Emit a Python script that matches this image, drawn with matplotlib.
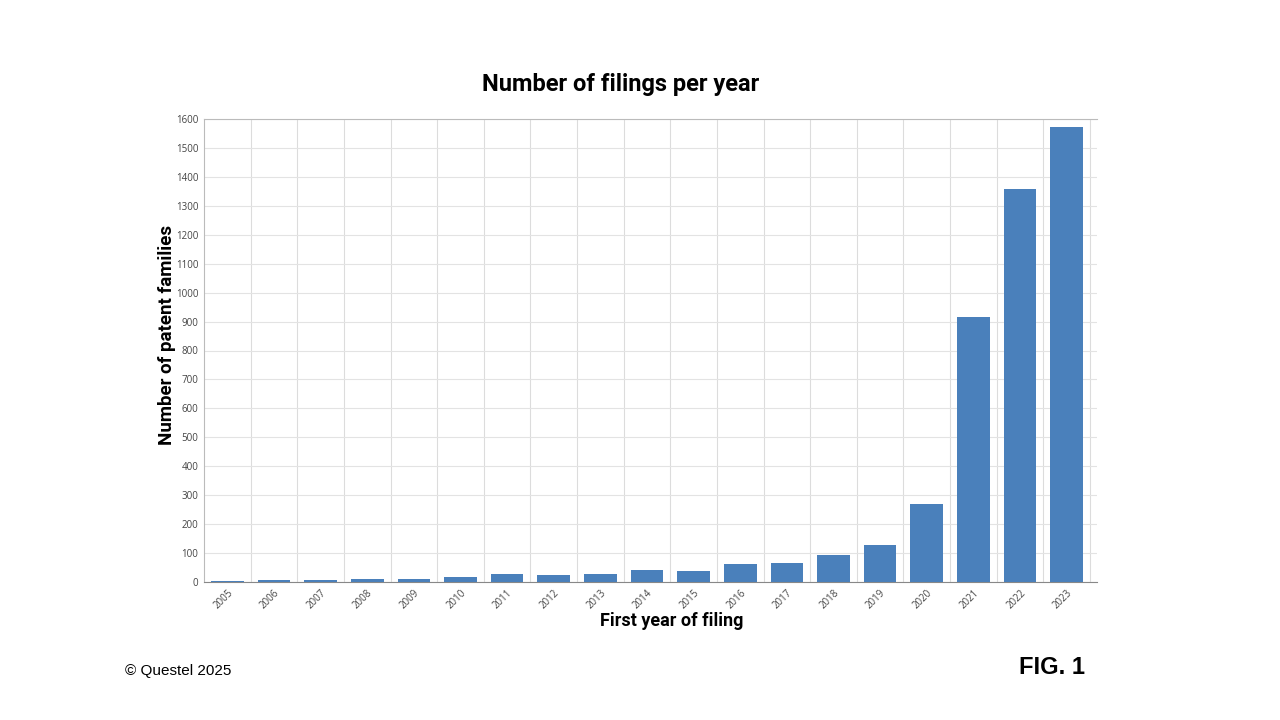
import matplotlib
matplotlib.use("Agg")
import matplotlib.pyplot as plt
from matplotlib.ticker import MultipleLocator

years = ["2005", "2006", "2007", "2008", "2009", "2010", "2011", "2012", "2013", "2014",
         "2015", "2016", "2017", "2018", "2019", "2020", "2021", "2022", "2023"]
families = [2, 8, 7, 12, 10, 19, 28, 25, 29, 42, 39, 63, 67, 94, 129, 271, 917, 1357, 1573]

fig = plt.figure(figsize=(12.8, 7.2), dpi=100)
ax = fig.add_axes([204/1280, 1 - 582/720, (1097-204)/1280, (582-119)/720])

x = list(range(len(years)))
ax.bar(x, families, width=0.7, color="#4a80bb", zorder=3)

ax.set_xlim(-0.5, len(years) - 0.35)
ax.set_ylim(0, 1600)
ax.yaxis.set_major_locator(MultipleLocator(100))
ax.set_xticks(x)
ax.set_xticklabels(years, rotation=45, ha="right", rotation_mode="anchor",
                   fontsize=7, color="#444444", family="Open Sans")
for lab in ax.get_yticklabels():
    lab.set_fontsize(7)
    lab.set_color("#444444")
    lab.set_family("Open Sans")
ax.tick_params(axis="both", length=0, pad=4)

# grid: horizontal at ticks, vertical at category boundaries
ax.set_xticks([i + 0.5 for i in range(len(years))], minor=True)
ax.grid(axis="y", which="major", color="#e3e3e3", linewidth=0.8, zorder=0)
ax.grid(axis="x", which="minor", color="#dcdcdc", linewidth=0.8, zorder=0)
ax.tick_params(axis="x", which="minor", length=0)

ax.spines["right"].set_visible(False)
ax.spines["top"].set_color("#bbbbbb")
ax.spines["left"].set_color("#bbbbbb")
ax.spines["bottom"].set_color("#888888")
for s in ax.spines.values():
    s.set_linewidth(0.8)

fig.text(621/1280, 1 - 85/720, "Number of filings per year", ha="center", va="center",
         fontsize=17, fontweight="bold", family="Roboto")
fig.text(672/1280, 1 - 621/720, "First year of filing", ha="center", va="center",
         fontsize=13, fontweight="bold", family="Roboto")
fig.text(167/1280, 1 - 335/720, "Number of patent families", ha="center", va="center",
         rotation=90, fontsize=13.5, fontweight="bold", family="Roboto")
fig.text(125/1280, 1 - 671/720, "© Questel 2025", ha="left", va="center",
         fontsize=11, family="Liberation Sans")
fig.text(1085/1280, 1 - 667/720, "FIG. 1", ha="right", va="center",
         fontsize=17, fontweight="bold", family="Liberation Sans")

fig.savefig("out.png", dpi=100, facecolor="white")
